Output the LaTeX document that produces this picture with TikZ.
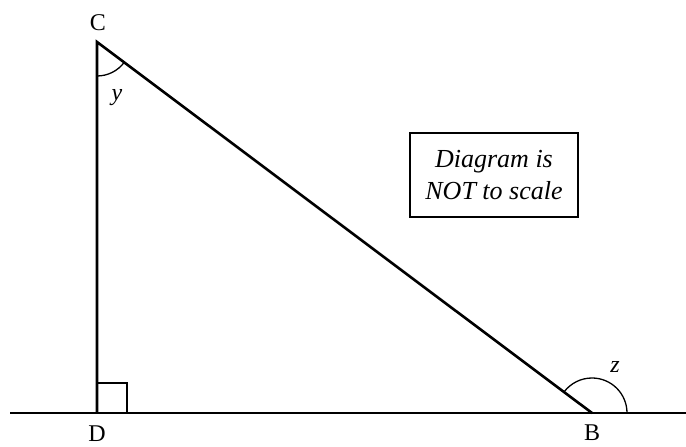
\documentclass[tikz,border=0pt]{standalone}
\usepackage{fontspec}
\setmainfont{Liberation Serif}
\usetikzlibrary{angles,calc}

\begin{document}
\begin{tikzpicture}[x=10pt,y=10pt,
  side/.style={line width=2.6pt},
  thinline/.style={line width=1.3pt},
  lbl/.style={font=\fontsize{24}{28}\selectfont,inner sep=0pt},
  note/.style={draw,line width=1.3pt,minimum width=168pt,minimum height=84pt,
    align=center,font=\fontsize{26}{32}\selectfont\itshape}]
  \useasboundingbox (0,0) rectangle (68.6,44.7);
  % Eckpunkte
  \coordinate (C) at (9.7,40.5);
  \coordinate (D) at (9.7,3.4);
  \coordinate (B) at (59.2,3.4);
  \coordinate (L) at (1.0,3.4);
  \coordinate (R) at (68.6,3.4);
  % Grundlinie und Dreieck
  \draw[side] (L) -- (R);
  \draw[side,line join=miter] (D) -- (C) -- (B);
  % rechter Winkel bei D
  \draw[thinline] ($(D)+(0,3.0)$) -- ++(3.0,0) -- ++(0,-3.0);
  % Winkelboegen
  \pic[draw,thinline,angle radius=34pt] {angle = D--C--B};
  \pic[draw,thinline,angle radius=35pt] {angle = R--B--C};
  % Beschriftung
  \node[lbl] (labC) at (9.8,42.4) {C};
  \node[lbl,anchor=base] (labD) at (9.7,0.5) {D};
  \node[lbl,anchor=base] (labB) at (59.2,0.6) {B};
  \node[lbl] (laby) at (11.7,34.9) {\textit{y}};
  \node[lbl] (labz) at (61.5,8.0) {\textit{z}};
  \node[note] (hint) at (49.4,27.2) {Diagram is\\NOT to scale};
\end{tikzpicture}
\end{document}
